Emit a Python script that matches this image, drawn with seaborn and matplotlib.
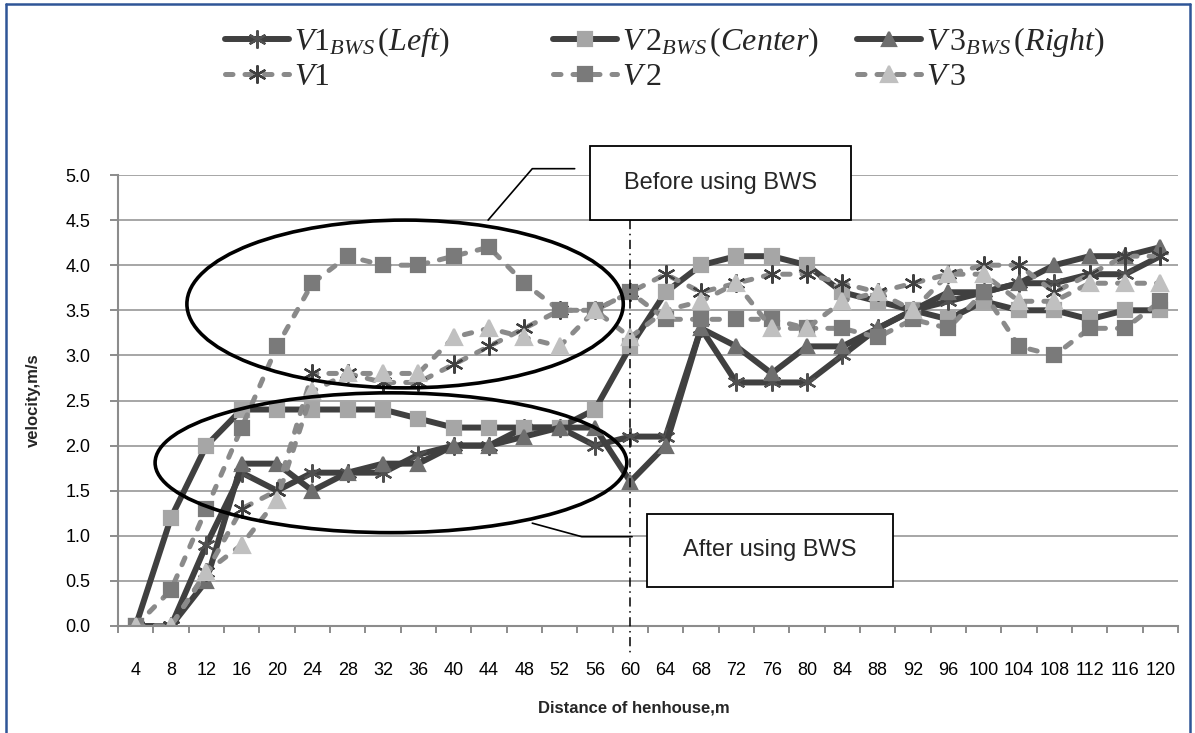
import numpy as np
import pandas as pd
import matplotlib
matplotlib.use("Agg")
import matplotlib.pyplot as plt
import seaborn as sns
from matplotlib.patches import Ellipse, Rectangle
from matplotlib.lines import Line2D

# ---------------- data ----------------
distance = list(range(4, 124, 4))
v1_bws = [0.0, 0.0, 0.9, 1.7, 1.5, 1.7, 1.7, 1.7, 1.9, 2.0, 2.0, 2.2, 2.2, 2.0, 2.1,
          2.1, 3.3, 2.7, 2.7, 2.7, 3.0, 3.3, 3.5, 3.6, 3.7, 3.8, 3.8, 3.9, 3.9, 4.1]
v2_bws = [0.0, 1.2, 2.0, 2.4, 2.4, 2.4, 2.4, 2.4, 2.3, 2.2, 2.2, 2.2, 2.2, 2.4, 3.1,
          3.7, 4.0, 4.1, 4.1, 4.0, 3.7, 3.6, 3.5, 3.4, 3.6, 3.5, 3.5, 3.4, 3.5, 3.5]
v3_bws = [0.0, 0.0, 0.5, 1.8, 1.8, 1.5, 1.7, 1.8, 1.8, 2.0, 2.0, 2.1, 2.2, 2.2, 1.6,
          2.0, 3.3, 3.1, 2.8, 3.1, 3.1, 3.3, 3.5, 3.7, 3.7, 3.8, 4.0, 4.1, 4.1, 4.2]
v1 = [0.0, 0.0, 0.6, 1.3, 1.5, 2.8, 2.8, 2.7, 2.7, 2.9, 3.1, 3.3, 3.5, 3.5, 3.7,
      3.9, 3.7, 3.8, 3.9, 3.9, 3.8, 3.7, 3.8, 3.9, 4.0, 4.0, 3.7, 3.9, 4.1, 4.1]
v2 = [0.0, 0.4, 1.3, 2.2, 3.1, 3.8, 4.1, 4.0, 4.0, 4.1, 4.2, 3.8, 3.5, 3.5, 3.7,
      3.4, 3.4, 3.4, 3.4, 3.3, 3.3, 3.2, 3.4, 3.3, 3.7, 3.1, 3.0, 3.3, 3.3, 3.6]
v3 = [0.0, 0.0, 0.6, 0.9, 1.4, 2.6, 2.8, 2.8, 2.8, 3.2, 3.3, 3.2, 3.1, 3.5, 3.2,
      3.5, 3.6, 3.8, 3.3, 3.3, 3.6, 3.7, 3.5, 3.9, 3.9, 3.6, 3.6, 3.8, 3.8, 3.8]
y_ticks = [0.0, 0.5, 1.0, 1.5, 2.0, 2.5, 3.0, 3.5, 4.0, 4.5, 5.0]

labels = [r'$V1_{BWS}\,(Left)$', r'$V\,2_{BWS}\,(Center)$', r'$V\,3_{BWS}\,(Right)$',
          r'$V1$', r'$V\,2$', r'$V\,3$']

# ---------------- style ----------------
sns.set_theme(style="white")
plt.rcParams['font.family'] = ['Liberation Sans', 'DejaVu Sans']
plt.rcParams['mathtext.fontset'] = 'custom'
plt.rcParams['mathtext.rm'] = 'Liberation Serif'
plt.rcParams['mathtext.it'] = 'Liberation Serif:italic'
plt.rcParams['mathtext.bf'] = 'Liberation Serif:bold'

W, H = 1195, 733
fig = plt.figure(figsize=(W / 100, H / 100), dpi=100)
ax = fig.add_axes([118 / W, 1 - 626 / H, (1178 - 118) / W, (626 - 175) / H])

ASTER = (6, 2, 0)
dash = (0, (1.5, 2.4))
solid_c = '#404040'
dash_c = '#8a8a8a'
specs = [
    # values, linestyle, line color, marker, face, edge, size, lw
    (v1_bws, '-', solid_c, ASTER, '#505050', '#505050', 13, 4.3),
    (v2_bws, '-', solid_c, 's', '#a6a6a6', '#a6a6a6', 9.5, 4.3),
    (v3_bws, '-', solid_c, '^', '#6e6e6e', '#6e6e6e', 10.5, 4.3),
    (v1, dash, dash_c, ASTER, '#404040', '#404040', 13, 3.6),
    (v2, dash, dash_c, 's', '#7a7a7a', '#7a7a7a', 9.5, 3.6),
    (v3, dash, dash_c, '^', '#c0c0c0', '#c0c0c0', 11.5, 3.6),
]
for (vals, ls, lc, mk, mfc, mec, ms, lw), lab in zip(specs, labels):
    sns.lineplot(x=distance, y=vals, ax=ax, color=lc, linestyle=ls, linewidth=lw,
                 marker=mk, markersize=ms, markerfacecolor=mfc, markeredgecolor=mec,
                 markeredgewidth=1.6, dash_capstyle='round', solid_joinstyle='round',
                 label=lab, legend=False, errorbar=None)

# ---------------- axes ----------------
ax.set_xlim(2, 122)
ax.set_ylim(0, 5)
ax.set_yticks(y_ticks)
ax.set_yticklabels([f"{t:.1f}" for t in y_ticks])
ax.set_xticks(distance)
ax.set_xticklabels([str(d) for d in distance])
ax.set_xticks(np.arange(2, 123, 4), minor=True)
ax.tick_params(axis='x', which='major', length=0, pad=26, labelsize=13, colors='black')
ax.tick_params(axis='x', which='minor', length=5, width=1.4, color='#8c8c8c', bottom=True)
ax.tick_params(axis='y', which='major', length=5.8, width=1.4, color='#8c8c8c', left=True,
               pad=14, labelsize=13, labelcolor='black')
ax.yaxis.grid(True, color='#a6a6a6', linewidth=1.4)
ax.xaxis.grid(False)
for s in ['top', 'right']:
    ax.spines[s].set_visible(False)
for s in ['left', 'bottom']:
    ax.spines[s].set_color('#8c8c8c')
    ax.spines[s].set_linewidth(1.5)
ax.set_xlabel('')
ax.set_ylabel('')
fig.text(634 / W, 1 - 708 / H, 'Distance of henhouse,m', ha='center', va='center',
         fontsize=12, fontweight='bold')
fig.text(33 / W, 1 - 400 / H, 'velocity,m/s', ha='center', va='center', rotation=90,
         fontsize=12, fontweight='bold')

# ---------------- annotations ----------------
ax.add_patch(Ellipse((34.5, 3.57), 49.4, 1.86, fill=False, ec='black', lw=2.6, zorder=6))
ax.add_patch(Ellipse((32.9, 1.81), 53.4, 1.55, fill=False, ec='black', lw=2.6, zorder=6))

ax.plot([60, 60], [4.5, -0.3], color='black', lw=1.1, linestyle=(0, (6, 3, 1, 3)),
        clip_on=False, zorder=7)

ax.add_patch(Rectangle((55.4, 4.50), 85.0 - 55.4, 5.32 - 4.50, fc='white', ec='black',
                       lw=1.3, clip_on=False, zorder=8))
ax.text(70.2, 4.91, 'Before using BWS', ha='center', va='center', fontsize=17, zorder=9)
ax.add_patch(Rectangle((61.9, 0.43), 89.7 - 61.9, 1.24 - 0.43, fc='white', ec='black',
                       lw=1.3, clip_on=False, zorder=8))
ax.text(75.8, 0.84, 'After using BWS', ha='center', va='center', fontsize=17, zorder=9)

ax.plot([43.9, 48.9, 53.7], [4.50, 5.07, 5.07], color='black', lw=1.2, clip_on=False, zorder=7)
ax.plot([48.9, 54.5, 60.2], [1.14, 0.99, 0.99], color='black', lw=1.2, clip_on=False, zorder=7)

# ---------------- legend ----------------
lines = ax.get_lines()[:6]
anchors = [225, 553, 857]
rows = [42, 77]
for i, xa in enumerate(anchors):
    for r, yc in enumerate(rows):
        k = i + 3 * r
        fig.legend([lines[k]], [labels[k]], loc='center left',
                   bbox_to_anchor=(xa / W, 1 - yc / H),
                   frameon=False, fontsize=23, handlelength=2.0, handletextpad=0.15,
                   borderpad=0, borderaxespad=0, numpoints=1)

# ---------------- border ----------------
bc = '#2f5597'
fig.add_artist(Line2D([6 / W, 6 / W], [0, 1 - 4 / H], color=bc, lw=1.8, transform=fig.transFigure))
fig.add_artist(Line2D([6 / W, 1190 / W], [1 - 4 / H, 1 - 4 / H], color=bc, lw=1.8, transform=fig.transFigure))
fig.add_artist(Line2D([1190 / W, 1190 / W], [0, 1 - 4 / H], color=bc, lw=1.8, transform=fig.transFigure))

fig.savefig('out.png', dpi=100)
